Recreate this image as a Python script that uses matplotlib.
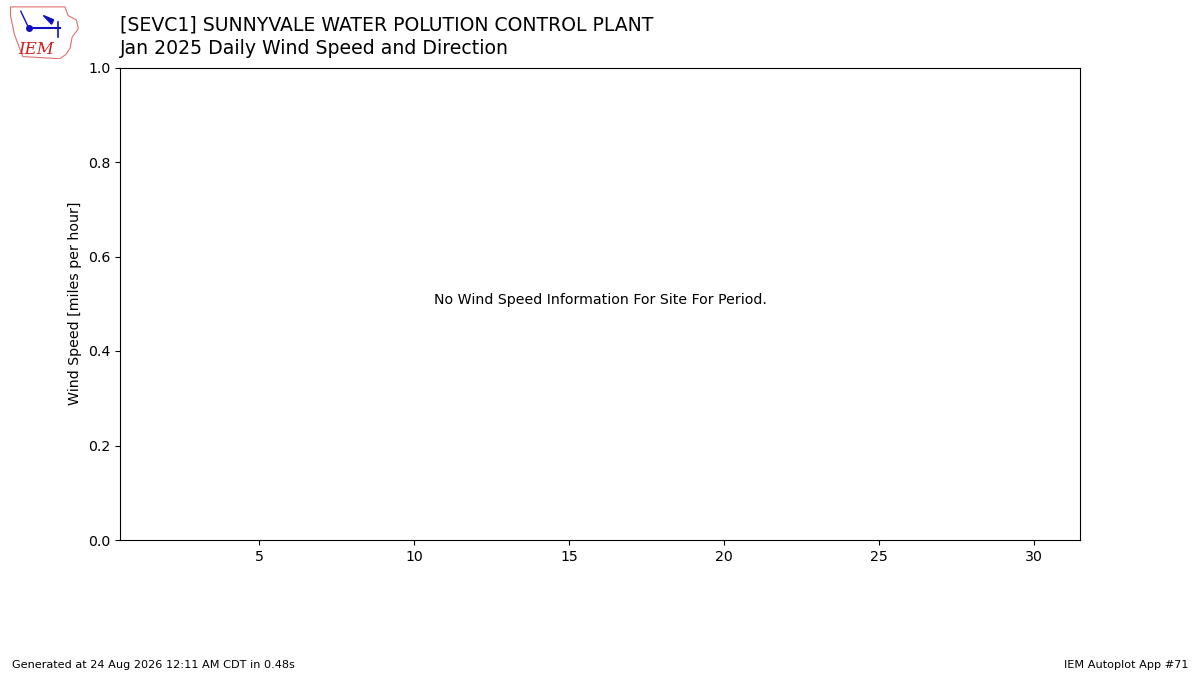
import matplotlib
matplotlib.use("Agg")
import matplotlib.pyplot as plt
from matplotlib.patches import Polygon

station = "[SEVC1] SUNNYVALE WATER POLUTION CONTROL PLANT"
subtitle = "Jan 2025 Daily Wind Speed and Direction"
days = list(range(1, 32))
xticks = [5, 10, 15, 20, 25, 30]
yticks = [0.0, 0.2, 0.4, 0.6, 0.8, 1.0]

plt.rcParams["font.size"] = 10.2

fig = plt.figure(figsize=(12, 6.75), dpi=100)
ax = fig.add_axes([0.1, 0.2, 0.8, 0.7])
ax.set_xlim(days[0] - 0.5, days[-1] + 0.5)
ax.set_ylim(0, 1)
ax.set_xticks(xticks)
ax.set_yticks(yticks)
ax.set_ylabel("Wind Speed [miles per hour]")
ax.text(0.5, 0.5, "No Wind Speed Information For Site For Period.",
        transform=ax.transAxes, ha="center")

fig.text(0.1, 0.955, station, fontsize=13.6, va="baseline")
fig.text(0.1, 0.92, subtitle, fontsize=13.6, va="baseline")

fig.text(0.01, 0.01, "Generated at 24 Aug 2026 12:11 AM CDT in 0.48s", fontsize=8.15)
fig.text(0.99, 0.01, "IEM Autoplot App #71", fontsize=8.15, ha="right")

# rough stand-in for the IEM logo
logo = fig.add_axes([0.007, 0.913, 0.06, 0.08])
logo.set_xlim(0, 70)
logo.set_ylim(0, 50)
logo.axis("off")
iowa = [(2, 48), (55, 48), (58, 40), (66, 36), (68, 28), (62, 20), (60, 10),
        (56, 4), (50, 0), (14, 2), (6, 22), (2, 40)]
logo.add_patch(Polygon(iowa, closed=True, fill=False, edgecolor="#e07070", lw=0.8))
logo.plot([20, 50], [28, 28], color="#1010c0", lw=1.5)
logo.plot([20], [28], "o", color="#1010c0", ms=4)
logo.plot([48, 48], [20, 34], color="#1010c0", lw=1.2)
logo.plot([12, 16, 20], [44, 36, 28], color="#1010c0", lw=1.0)
logo.add_patch(Polygon([(34, 40), (44, 36), (42, 32)], closed=True, color="#1010c0"))
logo.text(10, 4, "IEM", color="#d02020", fontsize=12, style="italic", family="serif")

fig.savefig("out.png", dpi=100)
